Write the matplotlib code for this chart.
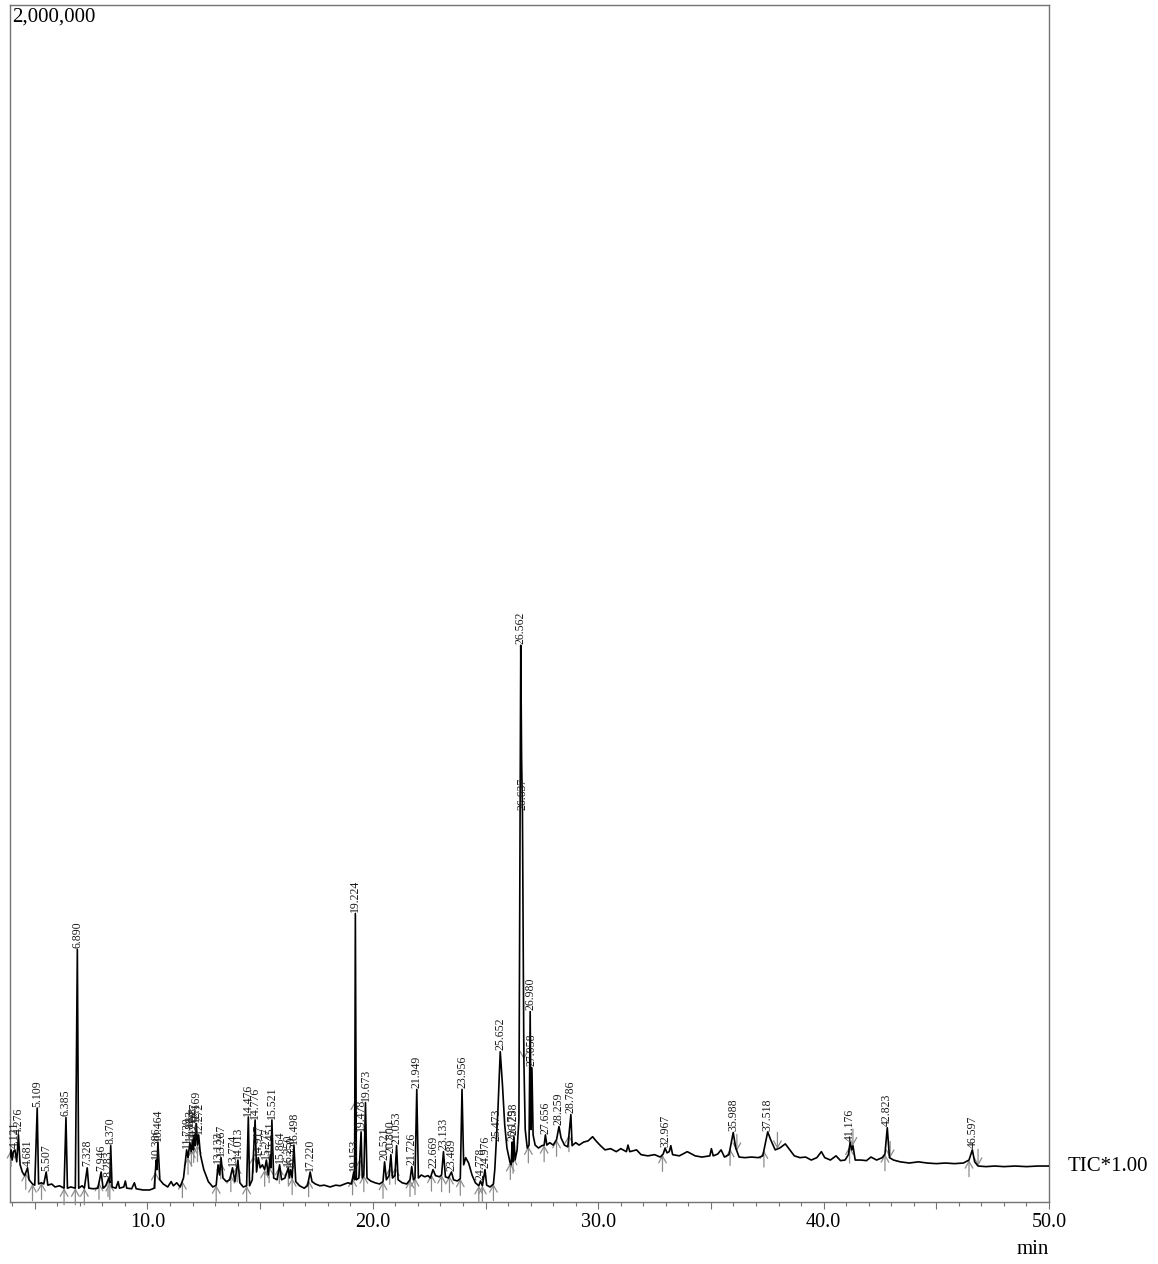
#!/usr/bin/env python3
"""
GC-MS total ion chromatogram (TIC*1.00), 3.9 - 50 min, with peak retention-time labels.
"""

import matplotlib as mpl
mpl.use("Agg")
import matplotlib.pyplot as plt
import matplotlib.transforms as mtransforms
from matplotlib.ticker import MultipleLocator
import numpy as np

mpl.rcParams.update({
    "font.family": ["Liberation Serif", "DejaVu Serif"],
    "figure.dpi": 100,
})

# ── Data ──────────────────────────────────────────────────────────────────────
# trace vertices: retention time (min) and intensity (thousand counts)
TRACE_T = [
    3.90, 3.95, 4.00, 4.05, 4.121, 4.20, 4.276, 4.35, 4.45, 4.55, 4.681, 4.75, 4.90,
    5.00, 5.109, 5.17, 5.30, 5.40, 5.507, 5.58, 5.75, 5.90, 6.10, 6.30, 6.385, 6.45,
    6.60, 6.80, 6.890, 6.95, 7.10, 7.20, 7.328, 7.40, 7.60, 7.80, 7.946, 8.03, 8.15,
    8.283, 8.33, 8.370, 8.43, 8.60, 8.70, 8.76, 8.95, 9.02, 9.08, 9.30, 9.42, 9.50,
    9.80, 10.10, 10.30, 10.386, 10.42, 10.464, 10.55, 10.70, 10.90, 11.05, 11.15,
    11.30, 11.45, 11.60, 11.739, 11.80, 11.883, 11.94, 11.998, 12.04, 12.077, 12.12,
    12.169, 12.22, 12.272, 12.35, 12.50, 12.70, 12.90, 13.05, 13.133, 13.20, 13.267,
    13.35, 13.50, 13.65, 13.774, 13.88, 14.013, 14.10, 14.25, 14.40, 14.476, 14.53,
    14.65, 14.776, 14.84, 14.917, 15.00, 15.10, 15.20, 15.277, 15.36, 15.451, 15.48,
    15.521, 15.60, 15.75, 15.864, 15.95, 16.10, 16.250, 16.30, 16.350, 16.42, 16.498,
    16.58, 16.75, 16.95, 17.10, 17.220, 17.30, 17.45, 17.65, 17.85, 18.10, 18.35,
    18.55, 18.75, 18.90, 19.05, 19.153, 19.19, 19.224, 19.27, 19.38, 19.478, 19.53,
    19.60, 19.673, 19.74, 19.90, 20.10, 20.30, 20.45, 20.521, 20.60, 20.72, 20.800,
    20.87, 20.98, 21.053, 21.12, 21.30, 21.50, 21.65, 21.726, 21.80, 21.87, 21.949,
    22.02, 22.15, 22.30, 22.45, 22.55, 22.669, 22.78, 22.95, 23.05, 23.133, 23.22,
    23.35, 23.489, 23.58, 23.75, 23.88, 23.956, 24.03, 24.12, 24.25, 24.40, 24.55,
    24.70, 24.778, 24.86, 24.976, 25.05, 25.20, 25.35, 25.41, 25.473, 25.55, 25.652,
    25.75, 25.85, 25.95, 26.08, 26.14, 26.179, 26.21, 26.258, 26.31, 26.40, 26.48,
    26.562, 26.60, 26.637, 26.70, 26.76, 26.85, 26.93, 26.980, 27.02, 27.058, 27.11,
    27.20, 27.35, 27.50, 27.60, 27.656, 27.72, 27.85, 28.00, 28.15, 28.259, 28.35,
    28.50, 28.65, 28.786, 28.84, 29.00, 29.15, 29.35, 29.55, 29.75, 29.90, 30.10,
    30.30, 30.55, 30.80, 31.00, 31.25, 31.32, 31.40, 31.70, 31.90, 32.20, 32.50,
    32.75, 32.88, 32.967, 33.05, 33.15, 33.22, 33.30, 33.60, 33.95, 34.30, 34.60,
    34.95, 35.02, 35.10, 35.30, 35.45, 35.60, 35.80, 35.988, 36.10, 36.25, 36.50,
    36.80, 37.10, 37.30, 37.518, 37.65, 37.85, 38.05, 38.30, 38.50, 38.70, 38.95,
    39.20, 39.45, 39.70, 39.90, 40.05, 40.30, 40.55, 40.75, 40.95, 41.10, 41.176,
    41.25, 41.30, 41.40, 41.65, 41.90, 42.10, 42.35, 42.60, 42.72, 42.823, 42.92,
    43.10, 43.40, 43.80, 44.20, 44.60, 45.00, 45.40, 45.80, 46.20, 46.45, 46.597,
    46.70, 46.85, 47.20, 47.60, 48.00, 48.50, 49.00, 49.50, 50.00,
]
TRACE_K = [
    75, 87, 70, 84, 87, 67, 112, 62, 50, 44, 57, 37, 30,
    28, 157, 30, 32, 30, 50, 28, 30, 25, 27, 23, 141, 23,
    25, 23, 422, 23, 27, 23, 57, 23, 22, 23, 50, 23, 27,
    40, 32, 94, 25, 23, 34, 23, 25, 35, 23, 22, 32, 22,
    20, 20, 23, 70, 54, 100, 37, 30, 25, 34, 27,
    32, 25, 40, 87, 74, 99, 84, 104, 87, 112, 94,
    131, 95, 112, 79, 54, 34, 25, 28, 62, 45, 74,
    40, 34, 37, 57, 34, 70, 32, 25, 27, 142, 27,
    37, 137, 50, 74, 57, 62, 54, 70, 45, 79, 57,
    137, 40, 37, 62, 37, 40, 57, 40, 54, 40, 95,
    34, 27, 23, 27, 50, 34, 30, 27, 28, 25, 28,
    27, 30, 32, 30, 50, 37, 482, 37, 40, 117, 40,
    45, 166, 40, 35, 32, 30, 34, 67, 37, 44, 79,
    40, 44, 94, 37, 32, 30, 37, 59, 37, 40, 188,
    40, 45, 42, 44, 40, 54, 44, 42, 45, 84, 42,
    40, 50, 37, 35, 39, 188, 62, 74, 65, 45, 32,
    27, 35, 27, 54, 28, 25, 30, 54, 100, 154, 251,
    196, 129, 90, 67, 62, 100, 67, 109, 70, 87, 137,
    930, 740, 653, 238, 121, 90, 95, 318, 121, 224, 112,
    95, 90, 94, 95, 112, 95, 99, 95, 104, 126, 107,
    95, 92, 146, 94, 99, 95, 100, 102, 109, 102, 94,
    87, 89, 84, 89, 84, 95, 84, 87, 79, 77, 79,
    75, 80, 90, 82, 84, 94, 79, 77, 84, 77, 75,
    77, 89, 77, 80, 87, 75, 79, 116, 90, 75, 74,
    75, 74, 77, 117, 104, 87, 90, 97, 87, 77, 74,
    75, 70, 74, 84, 74, 70, 77, 69, 70, 79, 100,
    87, 94, 70, 70, 69, 75, 70, 74, 80, 124, 74,
    70, 67, 65, 67, 65, 64, 65, 64, 65, 70, 87,
    67, 60, 59, 60, 59, 60, 59, 60, 60,
]

# labelled peaks (retention time, min)
PEAK_RT = [
    4.121, 4.276, 4.681, 5.109, 5.507, 6.385, 6.890, 7.328, 7.946, 8.283, 8.370,
    10.386, 10.464, 11.739, 11.883, 11.998, 12.077, 12.169, 12.272, 13.133, 13.267,
    13.774, 14.013, 14.476, 14.776, 14.917, 15.277, 15.451, 15.521, 15.864, 16.250,
    16.350, 16.498, 17.220, 19.153, 19.224, 19.478, 19.673, 20.521, 20.800, 21.053,
    21.726, 21.949, 22.669, 23.133, 23.489, 23.956, 24.778, 24.976, 25.473, 25.652,
    26.179, 26.258, 26.562, 26.637, 26.980, 27.058, 27.656, 28.259, 28.786, 32.967,
    35.988, 37.518, 41.176, 42.823, 46.597,
]

# integration start (up arrows) and end (down arrows) marks, min
START_MARKS = [
    3.95, 4.60, 4.90, 5.30, 6.30, 6.80, 7.20, 7.85, 8.25, 8.33, 10.35, 11.55, 11.80,
    11.95, 12.05, 12.22, 13.05, 13.25, 13.70, 13.98, 14.40, 14.70, 15.20, 15.40, 15.85,
    16.25, 16.42, 17.15, 19.10, 19.20, 19.42, 19.60, 20.45, 20.75, 21.00, 21.65, 21.87,
    22.60, 23.05, 23.40, 23.88, 24.70, 24.86, 25.35, 26.10, 26.22, 26.90, 27.60, 28.15,
    28.70, 32.85, 35.85, 37.35, 41.15, 42.72, 46.45,
]
END_MARKS = [26.70, 36.15, 37.95, 41.30, 42.95, 46.85]

Y_MAX = 2_000_000
X_MIN, X_MAX = 3.9, 50.0

GREY = "0.45"
MARK_GREY = "0.55"


def draw_marks(ax, t, y, times, offset):
    """Small open arrows at integration start/end points."""
    for tm in times:
        ax.annotate("", xy=(tm, np.interp(tm, t, y)), xytext=(0, offset),
                    textcoords="offset points",
                    arrowprops=dict(arrowstyle="->,head_length=0.45,head_width=0.25",
                                    color=MARK_GREY, lw=0.9, mutation_scale=11,
                                    shrinkA=0, shrinkB=0))


def main():
    t = np.array(TRACE_T)
    y = np.array(TRACE_K) * 1000.0

    fig = plt.figure(figsize=(11.58, 12.64))
    ax = fig.add_axes([0.0086, 0.0491, 0.8973, 0.9470])

    draw_marks(ax, t, y, START_MARKS, -12)
    draw_marks(ax, t, y, END_MARKS, 12)

    ax.plot(t, y, color="black", lw=1.2, zorder=3)

    # retention-time labels sitting on the peak apexes
    for rt in PEAK_RT:
        ax.annotate(f"{rt:.3f}", xy=(rt, np.interp(rt, t, y)), xytext=(0, 1),
                    textcoords="offset points", rotation=90,
                    ha="center", va="bottom", fontsize=8.5, color="0.1", zorder=4)

    ax.set_xlim(X_MIN, X_MAX)
    ax.set_ylim(0, Y_MAX)
    ax.set_yticks([])
    ax.xaxis.set_major_locator(MultipleLocator(5))
    ax.xaxis.set_minor_locator(MultipleLocator(1))
    ax.xaxis.set_major_formatter(
        mpl.ticker.FuncFormatter(lambda v, _: f"{v:.1f}" if round(v) % 10 == 0 else ""))
    ax.tick_params(axis="x", which="major", direction="out", length=5, width=0.8,
                   color=GREY, labelsize=14.5, pad=3)
    ax.tick_params(axis="x", which="minor", direction="out", length=3, width=0.8,
                   color=GREY)
    for sp in ax.spines.values():
        sp.set_color(GREY)
        sp.set_linewidth(1.0)

    ax.text(0.002, 0.998, "2,000,000", transform=ax.transAxes, ha="left", va="top",
            fontsize=15)
    ax.text(1.0, -0.040, "min", transform=ax.transAxes, ha="right", va="center",
            fontsize=15)
    trans = mtransforms.blended_transform_factory(ax.transAxes, ax.transData)
    ax.text(1.018, y[-1], "TIC*1.00", transform=trans, ha="left", va="center",
            fontsize=15)

    fig.savefig("out.png", dpi=100)
    plt.close(fig)


if __name__ == "__main__":
    main()
